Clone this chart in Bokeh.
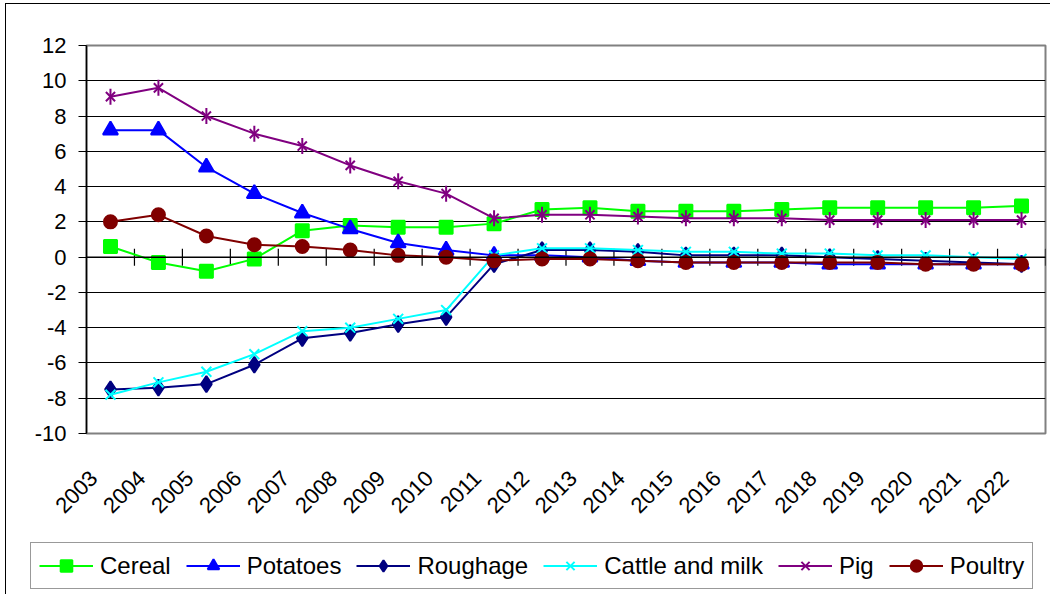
import math
from bokeh.plotting import figure
from bokeh.layouts import column
from bokeh.models import (Range1d, FixedTicker, LinearAxis, Span, Legend, LegendItem,
                          ColumnDataSource)
from bokeh.embed import file_html
from bokeh.resources import INLINE

years = ["2003", "2004", "2005", "2006", "2007", "2008", "2009", "2010", "2011", "2012",
         "2013", "2014", "2015", "2016", "2017", "2018", "2019", "2020", "2021", "2022"]

cereal = [0.6, -0.3, -0.8, -0.1, 1.5, 1.8, 1.7, 1.7, 1.9, 2.7,
          2.8, 2.6, 2.6, 2.6, 2.7, 2.8, 2.8, 2.8, 2.8, 2.9]
potatoes = [7.2, 7.2, 5.1, 3.6, 2.5, 1.6, 0.8, 0.4, 0.1, 0.1,
            0.0, -0.2, -0.3, -0.3, -0.3, -0.4, -0.4, -0.4, -0.4, -0.4]
roughage = [-7.5, -7.4, -7.2, -6.1, -4.6, -4.3, -3.8, -3.4, -0.4, 0.4,
            0.4, 0.3, 0.1, 0.1, 0.1, 0.0, -0.1, -0.2, -0.3, -0.4]
cattle_milk = [-7.8, -7.1, -6.5, -5.5, -4.2, -4.0, -3.5, -3.0, 0.1, 0.5,
               0.5, 0.4, 0.3, 0.3, 0.2, 0.2, 0.1, 0.1, 0.0, -0.1]
pig = [9.1, 9.6, 8.0, 7.0, 6.3, 5.2, 4.3, 3.6, 2.2, 2.4,
       2.4, 2.3, 2.2, 2.2, 2.2, 2.1, 2.1, 2.1, 2.1, 2.1]
poultry = [2.0, 2.4, 1.2, 0.7, 0.6, 0.4, 0.1, 0.0, -0.2, -0.1,
           -0.1, -0.2, -0.3, -0.3, -0.3, -0.3, -0.3, -0.4, -0.4, -0.4]

y_ticks = [-10, -8, -6, -4, -2, 0, 2, 4, 6, 8, 10, 12]

series = [
    ("Cereal", cereal, "#00FF00", "square", 13),
    ("Potatoes", potatoes, "#0000FF", "triangle", 15),
    ("Roughage", roughage, "#000080", "diamond", 16),
    ("Cattle and milk", cattle_milk, "#00FFFF", "x", 14),
    ("Pig", pig, "#800080", "x", 13),
    ("Poultry", poultry, "#800000", "circle", 13),
]

FONT = "Liberation Sans"
n = len(years)
xs = list(range(n))


def draw_series(fig, name, xv, yv, color, marker, size):
    src = ColumnDataSource(dict(x=xv, y=yv))
    rs = [fig.line("x", "y", source=src, line_color=color, line_width=2),
          fig.scatter("x", "y", source=src, marker=marker, size=size,
                      line_color=color, fill_color=color, line_width=2)]
    if name == "Pig":
        # vertical stroke turns the x into a six-armed star
        rs.append(fig.scatter("x", "y", source=src, marker="dash", angle=math.pi / 2,
                              size=16, line_color=color, line_width=2))
    return rs


# ---- main chart -------------------------------------------------------------
p = figure(width=1045, height=531, output_backend="svg", toolbar_location=None,
           x_range=Range1d(-0.5, n - 0.5), y_range=Range1d(-10, 12),
           x_axis_location=None, y_axis_location=None)
p.frame_align = False
p.styles = {"margin-left": "5px", "margin-top": "3px",
            "border-left": "1px solid black", "border-top": "1px solid black"}
p.min_border_left = 80
p.min_border_right = 6
p.min_border_top = 41
p.min_border_bottom = 102
p.background_fill_color = "white"
p.border_fill_color = "white"
p.outline_line_color = "#808080"
p.outline_line_width = 2

yaxis = LinearAxis(ticker=FixedTicker(ticks=y_ticks),
                   major_label_overrides={t: str(t) for t in y_ticks})
yaxis.axis_line_color = "black"
yaxis.axis_line_width = 1.5
yaxis.major_tick_out = 8
yaxis.major_tick_in = 0
yaxis.major_tick_line_color = "black"
yaxis.minor_tick_out = 0
yaxis.minor_tick_in = 0
yaxis.major_label_standoff = 12
yaxis.major_label_text_font = FONT
yaxis.major_label_text_font_size = "22px"
yaxis.major_label_text_color = "black"
p.add_layout(yaxis, "left")

# year labels along the bottom, rotated; anchored a little left of each point
label_pos = [i - 0.35 for i in xs]
xaxis = LinearAxis(ticker=FixedTicker(ticks=label_pos),
                   major_label_overrides={pos: y for pos, y in zip(label_pos, years)})
xaxis.axis_line_color = None
xaxis.major_tick_line_color = None
xaxis.minor_tick_line_color = None
xaxis.major_label_orientation = math.pi / 4
xaxis.major_label_standoff = 35
xaxis.major_label_text_font = FONT
xaxis.major_label_text_font_size = "22px"
xaxis.major_label_text_color = "black"
p.add_layout(xaxis, "below")

p.ygrid.ticker = FixedTicker(ticks=y_ticks)
p.ygrid.grid_line_color = "black"
p.ygrid.grid_line_width = 1
p.xgrid.grid_line_color = None

# category axis crossing at zero with tick marks between the years
p.add_layout(Span(location=0, dimension="width", line_color="black", line_width=1.5))
boundaries = [i + 0.5 for i in range(n)]
p.scatter(boundaries, [0] * len(boundaries), marker="dash", angle=math.pi / 2,
          size=17, line_color="black", line_width=1.2)

for name, vals, color, marker, size in series:
    draw_series(p, name, xs, vals, color, marker, size)

# ---- legend strip -----------------------------------------------------------
lg = figure(width=1045, height=60, output_backend="svg", toolbar_location=None,
            x_range=Range1d(0, 1), y_range=Range1d(0, 1),
            x_axis_location=None, y_axis_location=None)
lg.frame_align = False
lg.styles = {"margin-left": "5px", "border-left": "1px solid black"}
lg.min_border = 0
lg.min_border_left = 0
lg.min_border_right = 0
lg.min_border_top = 0
lg.min_border_bottom = 0
lg.outline_line_color = None
lg.background_fill_color = "white"
lg.border_fill_color = "white"
lg.xgrid.grid_line_color = None
lg.ygrid.grid_line_color = None

items = []
for name, vals, color, marker, size in series:
    # sample glyphs sit outside the visible range; only their legend entries show
    rs = draw_series(lg, name, [-5, -4], [-5, -4], color, marker, size)
    items.append(LegendItem(label=name, renderers=rs))

legend = Legend(items=items, orientation="horizontal", location=(24, 5))
legend.label_text_font = FONT
legend.label_text_font_size = "24px"
legend.label_text_color = "black"
legend.glyph_width = 54
legend.glyph_height = 29
legend.label_height = 29
legend.label_standoff = 7
legend.spacing = 15
legend.padding = 8
legend.margin = 0
legend.border_line_color = "#333333"
legend.border_line_width = 1
legend.background_fill_color = "white"
legend.background_fill_alpha = 1
lg.add_layout(legend, "center")

layout = column(p, lg, spacing=0)
open("out.html", "w").write(file_html(layout, INLINE))
